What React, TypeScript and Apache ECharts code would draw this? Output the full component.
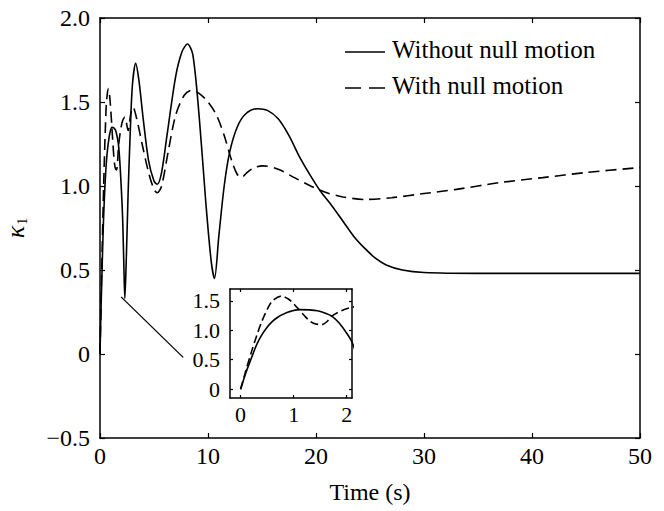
import React, { useEffect, useRef } from "react";
import * as echarts from "echarts";

// Time samples (s) and kappa_1 values
const timeWithout = [0, 0.1, 0.2, 0.3, 0.4, 0.5, 0.6, 0.7, 0.8, 0.9, 1.1, 1.3, 1.45, 1.6, 1.72, 1.85, 2.0, 2.1, 2.2, 2.3, 2.45, 2.6, 2.8, 3.0, 3.3, 3.6, 4.0, 4.5, 5.0, 5.3, 5.7, 6.2, 7.0, 7.6, 8.1, 8.6, 9.2, 9.8, 10.3, 10.6, 11.0, 11.5, 12.0, 12.7, 13.5, 14.6, 15.5, 16.5, 17.5, 18.5, 19.5, 20.4, 21.5, 22.5, 23.5, 24.5, 25.5, 26.5, 28, 30, 35, 50];
const valuesWithout = [0, 0.28, 0.52, 0.75, 0.92, 1.05, 1.15, 1.22, 1.27, 1.31, 1.35, 1.345, 1.33, 1.29, 1.24, 1.13, 0.95, 0.8, 0.55, 0.33, 0.6, 0.95, 1.32, 1.6, 1.73, 1.63, 1.4, 1.15, 1.03, 1.01, 1.08, 1.3, 1.65, 1.8, 1.845, 1.78, 1.4, 0.9, 0.55, 0.45, 0.7, 1.0, 1.2, 1.35, 1.43, 1.46, 1.45, 1.4, 1.3, 1.17, 1.06, 0.97, 0.88, 0.79, 0.7, 0.63, 0.57, 0.53, 0.5, 0.485, 0.48, 0.48];

const timeWith = [0, 0.1, 0.2, 0.3, 0.4, 0.5, 0.6, 0.77, 0.9, 1.0, 1.1, 1.2, 1.3, 1.4, 1.53, 1.62, 1.72, 1.9, 2.1, 2.3, 2.6, 2.85, 3.05, 3.4, 3.9, 4.5, 5.0, 5.3, 5.7, 6.3, 7.0, 7.8, 8.5, 9.2, 10.0, 10.8, 11.5, 12.2, 12.7, 13.1, 13.6, 14.3, 15.1, 16.5, 18, 19.5, 21, 22.5, 24.5, 27, 30, 33, 37, 41, 45, 50];
const valuesWith = [0, 0.32, 0.62, 0.9, 1.15, 1.35, 1.5, 1.58, 1.53, 1.45, 1.35, 1.25, 1.16, 1.11, 1.095, 1.14, 1.24, 1.33, 1.39, 1.41, 1.33, 1.43, 1.47, 1.4, 1.25, 1.08, 0.98, 0.96, 1.0, 1.2, 1.42, 1.54, 1.57, 1.55, 1.5, 1.42, 1.3, 1.15, 1.07, 1.05, 1.08, 1.11, 1.12, 1.1, 1.05, 1.0, 0.96, 0.935, 0.92, 0.93, 0.955, 0.98, 1.02, 1.05, 1.08, 1.11];

// Connector from the zoomed region to the inset
const connectorFrom = [1.95, 0.34];
const connectorTo = [7.7, -0.02];

const insetXTicks = [0, 1, 2];
const insetYTicks = [0, 0.5, 1, 1.5];

const seriesWithout = "Without null motion";
const seriesWith = "With null motion";

const FONT = "Liberation Serif";

export default function App() {
  const ref = useRef<HTMLDivElement>(null);
  useEffect(() => {
    if (!ref.current) return;
    const chart = echarts.init(ref.current, null, { renderer: "svg" });
    const pairs = (t: number[], v: number[]) => t.map((x, i) => [x, v[i]]);
    const dataWithout = pairs(timeWithout, valuesWithout);
    const dataWith = pairs(timeWith, valuesWith);

    const axisLine = { show: true, onZero: false, lineStyle: { color: "#000", width: 1.5 } };
    const tick = { show: true, inside: true, length: 5, lineStyle: { color: "#000", width: 1.2 } };
    const fmtMain = (v: number) => (v === 0 ? "0" : v < 0 ? "\u2212" + Math.abs(v).toFixed(1) : v.toFixed(1));

    chart.setOption({
      animation: false,
      backgroundColor: "#fff",
      textStyle: { fontFamily: FONT, color: "#000" },
      grid: [
        { left: 100, right: 24, top: 18, bottom: 73, outerBoundsMode: "none", containLabel: false },
        { left: 230, right: 312, top: 289, bottom: 113, outerBoundsMode: "none", containLabel: false, show: true, backgroundColor: "#fff", borderWidth: 0 },
      ],
      graphic: [
        { type: "line", shape: { x1: 345, y1: 52, x2: 385, y2: 52 }, style: { stroke: "#000", lineWidth: 1.6 } },
        { type: "text", left: 392, top: 37, style: { text: seriesWithout, fontFamily: FONT, fontSize: 25, fill: "#000" } },
        { type: "line", shape: { x1: 345, y1: 88, x2: 385, y2: 88 }, style: { stroke: "#000", lineWidth: 1.6, lineDash: [16, 8] } },
        { type: "text", left: 392, top: 73, style: { text: seriesWith, fontFamily: FONT, fontSize: 25, fill: "#000" } },
      ],
      xAxis: [
        {
          gridIndex: 0, type: "value", min: 0, max: 50, interval: 10,
          axisLine, axisTick: tick, splitLine: { show: false },
          axisLabel: { color: "#000", fontFamily: FONT, fontSize: 24, margin: 6 },
          name: "Time (s)", nameLocation: "middle", nameGap: 42,
          nameTextStyle: { fontFamily: FONT, fontSize: 24, color: "#000" },
        },
        {
          gridIndex: 0, type: "value", position: "top", min: 0, max: 50, interval: 10,
          axisLine, axisTick: tick, axisLabel: { show: false }, splitLine: { show: false },
        },
        {
          gridIndex: 1, type: "value", min: -0.2, max: 2.1,
          axisLine, axisTick: { ...tick, length: 3, customValues: insetXTicks }, splitLine: { show: false },
          axisLabel: { color: "#000", fontFamily: FONT, fontSize: 22, margin: 5, customValues: insetXTicks, formatter: (v: number) => String(v) },
        },
        {
          gridIndex: 1, type: "value", position: "top", min: -0.2, max: 2.1,
          axisLine, axisTick: { ...tick, length: 3, customValues: insetXTicks }, axisLabel: { show: false }, splitLine: { show: false },
        },
      ],
      yAxis: [
        {
          gridIndex: 0, type: "value", min: -0.5, max: 2, interval: 0.5,
          axisLine, axisTick: tick, splitLine: { show: false },
          axisLabel: { color: "#000", fontFamily: FONT, fontSize: 24, margin: 10, formatter: fmtMain },
          name: "{k|\u03ba}{s|1}", nameLocation: "middle", nameGap: 71, nameRotate: 90,
          nameTextStyle: {
            rich: {
              k: { fontFamily: FONT, fontStyle: "italic", fontSize: 26, color: "#000" },
              s: { fontFamily: FONT, fontSize: 14, color: "#000", padding: [14, 0, 0, 1] },
            },
          },
        },
        {
          gridIndex: 0, type: "value", position: "right", min: -0.5, max: 2, interval: 0.5,
          axisLine, axisTick: tick, axisLabel: { show: false }, splitLine: { show: false },
        },
        {
          gridIndex: 1, type: "value", min: -0.15, max: 1.7,
          axisLine, axisTick: { ...tick, length: 3, customValues: insetYTicks }, splitLine: { show: false },
          axisLabel: { color: "#000", fontFamily: FONT, fontSize: 22, margin: 10, customValues: insetYTicks, formatter: (v: number) => (v === 0 ? "0" : v.toFixed(1)) },
        },
        {
          gridIndex: 1, type: "value", position: "right", min: -0.15, max: 1.7,
          axisLine, axisTick: { ...tick, length: 3, customValues: insetYTicks }, axisLabel: { show: false }, splitLine: { show: false },
        },
      ],
      series: [
        {
          name: seriesWithout, type: "line", xAxisIndex: 0, yAxisIndex: 0, data: dataWithout,
          symbol: "none", smooth: 0.3, lineStyle: { color: "#000", width: 1.6 },
        },
        {
          name: seriesWith, type: "line", xAxisIndex: 0, yAxisIndex: 0, data: dataWith,
          symbol: "none", smooth: 0.3, lineStyle: { color: "#000", width: 1.6, type: [11, 6] },
        },
        {
          name: "connector", type: "line", xAxisIndex: 0, yAxisIndex: 0, data: [connectorFrom, connectorTo],
          symbol: "none", lineStyle: { color: "#000", width: 1.3 },
        },
        {
          name: seriesWithout + " (inset)", type: "line", xAxisIndex: 2, yAxisIndex: 2, data: dataWithout,
          symbol: "none", smooth: 0.3, clip: true, lineStyle: { color: "#000", width: 1.6 },
        },
        {
          name: seriesWith + " (inset)", type: "line", xAxisIndex: 2, yAxisIndex: 2, data: dataWith,
          symbol: "none", smooth: 0.3, clip: true, lineStyle: { color: "#000", width: 1.6, type: [8, 4] },
        },
      ],
    });
    return () => chart.dispose();
  }, []);
  return <div ref={ref} style={{ position: "absolute", left: 0, top: 0, width: 664, height: 511 }} />;
}
